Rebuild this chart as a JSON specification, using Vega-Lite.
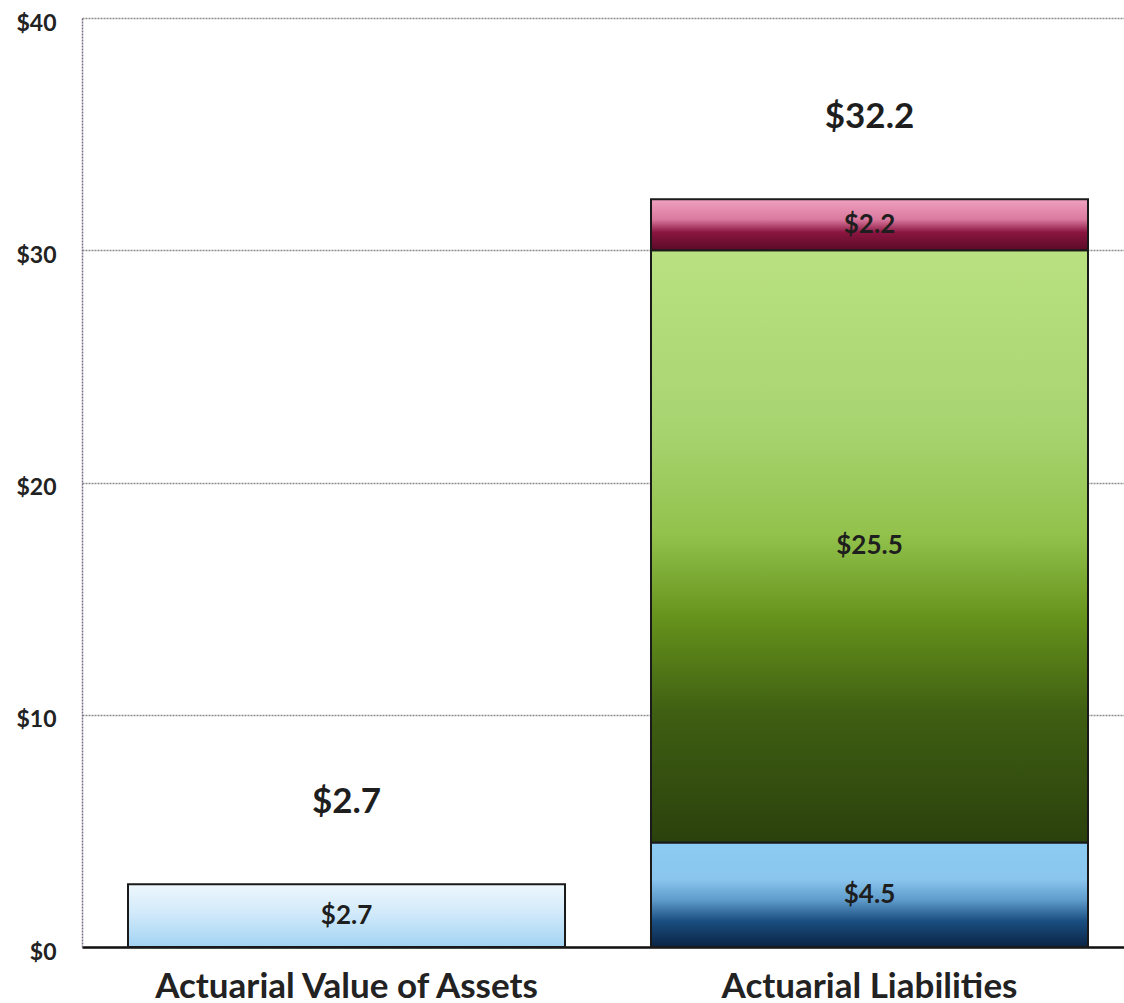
{
  "$schema": "https://vega.github.io/schema/vega-lite/v6.json",
  "width": 1042,
  "height": 929,
  "autosize": {"type": "none"},
  "padding": {"left": 82, "top": 18, "right": 0, "bottom": 56},
  "background": "white",
  "config": {
    "view": {"stroke": null},
    "font": "Lato"
  },
  "data": {
    "values": [
      {"bar": "Actuarial Value of Assets", "segment": "Assets", "order": 1, "value": 2.7},
      {"bar": "Actuarial Liabilities", "segment": "Blue", "order": 1, "value": 4.5},
      {"bar": "Actuarial Liabilities", "segment": "Green", "order": 2, "value": 25.5},
      {"bar": "Actuarial Liabilities", "segment": "Pink", "order": 3, "value": 2.2}
    ]
  },
  "transform": [
    {"stack": "value", "groupby": ["bar"], "sort": [{"field": "order"}], "as": ["lo", "hi"]}
  ],
  "encoding": {
    "x": {
      "field": "bar",
      "type": "nominal",
      "sort": ["Actuarial Value of Assets", "Actuarial Liabilities"],
      "scale": {"paddingInner": 0.1644, "paddingOuter": 0.0784, "align": 0.561},
      "axis": {
        "title": null,
        "labelAngle": 0,
        "labelLimit": 0,
        "labelFont": "Lato",
        "labelFontWeight": "bold",
        "labelFontSize": 35,
        "labelColor": "#222222",
        "labelPadding": 22,
        "ticks": false,
        "domainColor": "#111111",
        "domainWidth": 2.5
      }
    }
  },
  "layer": [
    {
      "mark": {"type": "bar", "stroke": "#1a1a1a", "strokeWidth": 2},
      "encoding": {
        "y": {
          "field": "lo",
          "type": "quantitative",
          "scale": {"domain": [0, 40]},
          "axis": {
            "title": null,
            "values": [0, 10, 20, 30, 40],
            "format": "$d",
            "labelFont": "Lato",
            "labelFontWeight": "bold",
            "labelFontSize": 23,
            "labelColor": "#222222",
            "labelPadding": 26,
            "labelBaseline": "middle",
            "labelOffset": 5,
            "ticks": false,
            "grid": true,
            "gridColor": "#8c8c8c",
            "gridDash": [2, 1],
            "gridWidth": 1.5,
            "domainColor": "#7a6a82",
            "domainDash": [2, 1],
            "domainWidth": 1.5
          }
        },
        "y2": {"field": "hi"},
        "fill": {
          "condition": [
            {
              "test": "datum.segment === 'Assets'",
              "value": {
                "gradient": "linear", "x1": 0, "y1": 0, "x2": 0, "y2": 1,
                "stops": [
                  {"offset": 0, "color": "#eef7fd"},
                  {"offset": 0.45, "color": "#d2eafa"},
                  {"offset": 1, "color": "#a2d3f3"}
                ]
              }
            },
            {
              "test": "datum.segment === 'Blue'",
              "value": {
                "gradient": "linear", "x1": 0, "y1": 0, "x2": 0, "y2": 1,
                "stops": [
                  {"offset": 0, "color": "#8ccbf2"},
                  {"offset": 0.35, "color": "#8ac6ee"},
                  {"offset": 0.55, "color": "#5f9bcb"},
                  {"offset": 0.75, "color": "#1a4f82"},
                  {"offset": 1, "color": "#0b2444"}
                ]
              }
            },
            {
              "test": "datum.segment === 'Green'",
              "value": {
                "gradient": "linear", "x1": 0, "y1": 0, "x2": 0, "y2": 1,
                "stops": [
                  {"offset": 0, "color": "#b9e181"},
                  {"offset": 0.3, "color": "#a8d470"},
                  {"offset": 0.48, "color": "#92c24c"},
                  {"offset": 0.62, "color": "#66931c"},
                  {"offset": 0.78, "color": "#3f5f12"},
                  {"offset": 1, "color": "#2b410d"}
                ]
              }
            },
            {
              "test": "datum.segment === 'Pink'",
              "value": {
                "gradient": "linear", "x1": 0, "y1": 0, "x2": 0, "y2": 1,
                "stops": [
                  {"offset": 0, "color": "#f0a2c0"},
                  {"offset": 0.4, "color": "#d9789e"},
                  {"offset": 0.65, "color": "#8a1540"},
                  {"offset": 1, "color": "#5a0a26"}
                ]
              }
            }
          ],
          "value": "#cccccc"
        }
      }
    },
    {
      "transform": [
        {"fold": ["lo", "hi"], "as": ["edge", "pos"]},
        {"aggregate": [{"op": "mean", "field": "pos", "as": "mid"}, {"op": "max", "field": "value", "as": "value"}], "groupby": ["bar", "segment"]}
      ],
      "mark": {"type": "text", "font": "Lato", "fontWeight": "bold", "fontSize": 26, "color": "#1e1e1e", "baseline": "middle"},
      "encoding": {
        "y": {"field": "mid", "type": "quantitative"},
        "text": {"field": "value", "type": "quantitative", "format": "$.1f"}
      }
    },
    {
      "transform": [
        {"aggregate": [{"op": "sum", "field": "value", "as": "total"}], "groupby": ["bar"]}
      ],
      "mark": {"type": "text", "font": "Lato", "fontWeight": "bold", "fontSize": 35, "color": "#1e1e1e", "baseline": "middle", "dy": -82},
      "encoding": {
        "y": {"field": "total", "type": "quantitative"},
        "text": {"field": "total", "type": "quantitative", "format": "$.1f"}
      }
    }
  ]
}
